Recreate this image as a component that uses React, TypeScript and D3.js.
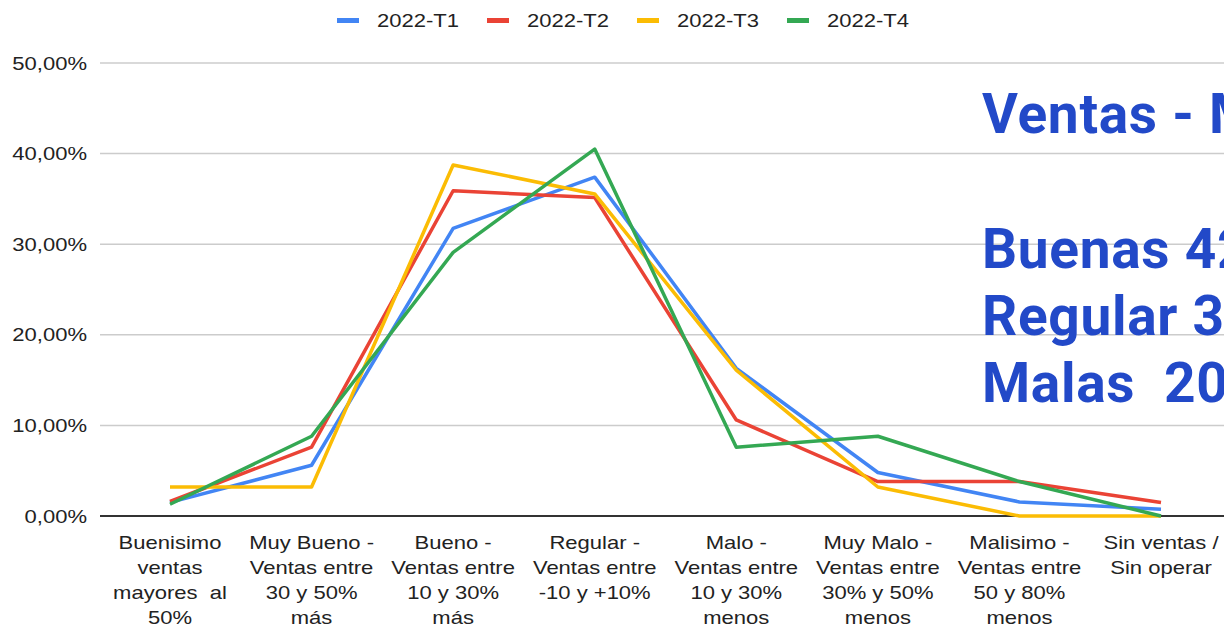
import * as d3 from 'd3';

const categories = [
  ['Buenisimo', 'ventas', 'mayores  al', '50%'],
  ['Muy Bueno -', 'Ventas entre', '30 y 50%', 'más'],
  ['Bueno -', 'Ventas entre', '10 y 30%', 'más'],
  ['Regular -', 'Ventas entre', '-10 y +10%'],
  ['Malo -', 'Ventas entre', '10 y 30%', 'menos'],
  ['Muy Malo -', 'Ventas entre', '30% y 50%', 'menos'],
  ['Malisimo -', 'Ventas entre', '50 y 80%', 'menos'],
  ['Sin ventas /', 'Sin operar'],
];

const seriesNames = ['2022-T1', '2022-T2', '2022-T3', '2022-T4'];
const seriesColors = ['#4285F4', '#EA4335', '#FBBC04', '#34A853'];

const t1 = [1.5, 5.6, 31.75, 37.4, 16.3, 4.8, 1.55, 0.75];
const t2 = [1.6, 7.6, 35.9, 35.15, 10.6, 3.8, 3.8, 1.5];
const t3 = [3.2, 3.2, 38.75, 35.55, 16.1, 3.2, 0, 0];
const t4 = [1.3, 8.8, 29.1, 40.5, 7.6, 8.8, 3.8, 0];
const seriesValues = [t1, t2, t3, t4];

const yTicks = [0, 10, 20, 30, 40, 50];

const sideLines = ['Ventas - Mensual', '', 'Buenas 42%', 'Regular 31%', 'Malas  20%'];

const W = 1224;
const H = 629;
const SX = 1.19; // chart image is stretched horizontally

export default function App() {
  const keys = categories.map((c) => c.join(' '));
  const x = d3.scalePoint<string>().domain(keys).range([170, 1161]);
  const y = d3.scaleLinear().domain([0, 50]).range([516, 63]);
  const line = d3
    .line<number>()
    .x((_, i) => x(keys[i]) as number)
    .y((d) => y(d));

  const font = "'Liberation Sans', Arial, sans-serif";

  return (
    <svg
      width={W}
      height={H}
      style={{ position: 'absolute', left: 0, top: 0, background: '#fff' }}
    >
      {/* legend */}
      {seriesNames.map((name, i) => (
        <g key={name} transform={`translate(${337 + i * 150},0)`}>
          <rect x={0} y={18} width={22} height={5} fill={seriesColors[i]} />
          <g transform={`translate(40,26.5) scale(${SX},1)`}>
            <text fontFamily={font} fontSize={18.5} fill="#222">
              {name}
            </text>
          </g>
        </g>
      ))}

      {/* grid + y labels */}
      {yTicks.map((t) => (
        <g key={t}>
          <line
            x1={100}
            x2={W}
            y1={y(t)}
            y2={y(t)}
            stroke={t === 0 ? '#333' : '#ccc'}
            strokeWidth={t === 0 ? 2 : 1.5}
          />
          <g transform={`translate(87,${y(t) + 6.5}) scale(${SX},1)`}>
            <text fontFamily={font} fontSize={18.5} fill="#222" textAnchor="end">
              {t.toFixed(2).replace('.', ',') + '%'}
            </text>
          </g>
        </g>
      ))}

      {/* x labels */}
      {categories.map((lines, i) => (
        <g key={keys[i]}>
          {lines.map((l, j) => (
            <g key={j} transform={`translate(${x(keys[i])},${549 + j * 25}) scale(${SX},1)`}>
              <text
                fontFamily={font}
                fontSize={18.5}
                fill="#222"
                textAnchor="middle"
                style={{ whiteSpace: 'pre' }}
              >
                {l}
              </text>
            </g>
          ))}
        </g>
      ))}

      {/* series */}
      {seriesValues.map((vals, i) => (
        <path
          key={seriesNames[i]}
          d={line(vals) || ''}
          fill="none"
          stroke={seriesColors[i]}
          strokeWidth={3.5}
          strokeLinejoin="round"
        />
      ))}

      {/* overlay text */}
      {sideLines.map((s, i) =>
        s ? (
          <text
            key={i}
            x={982}
            y={[133, 0, 268, 335, 402][i]}
            fontFamily="Roboto, sans-serif"
            fontWeight={700}
            fontSize={55}
            letterSpacing={0.7}
            fill="#2249C8"
            style={{ whiteSpace: 'pre' }}
          >
            {s}
          </text>
        ) : null
      )}
    </svg>
  );
}
